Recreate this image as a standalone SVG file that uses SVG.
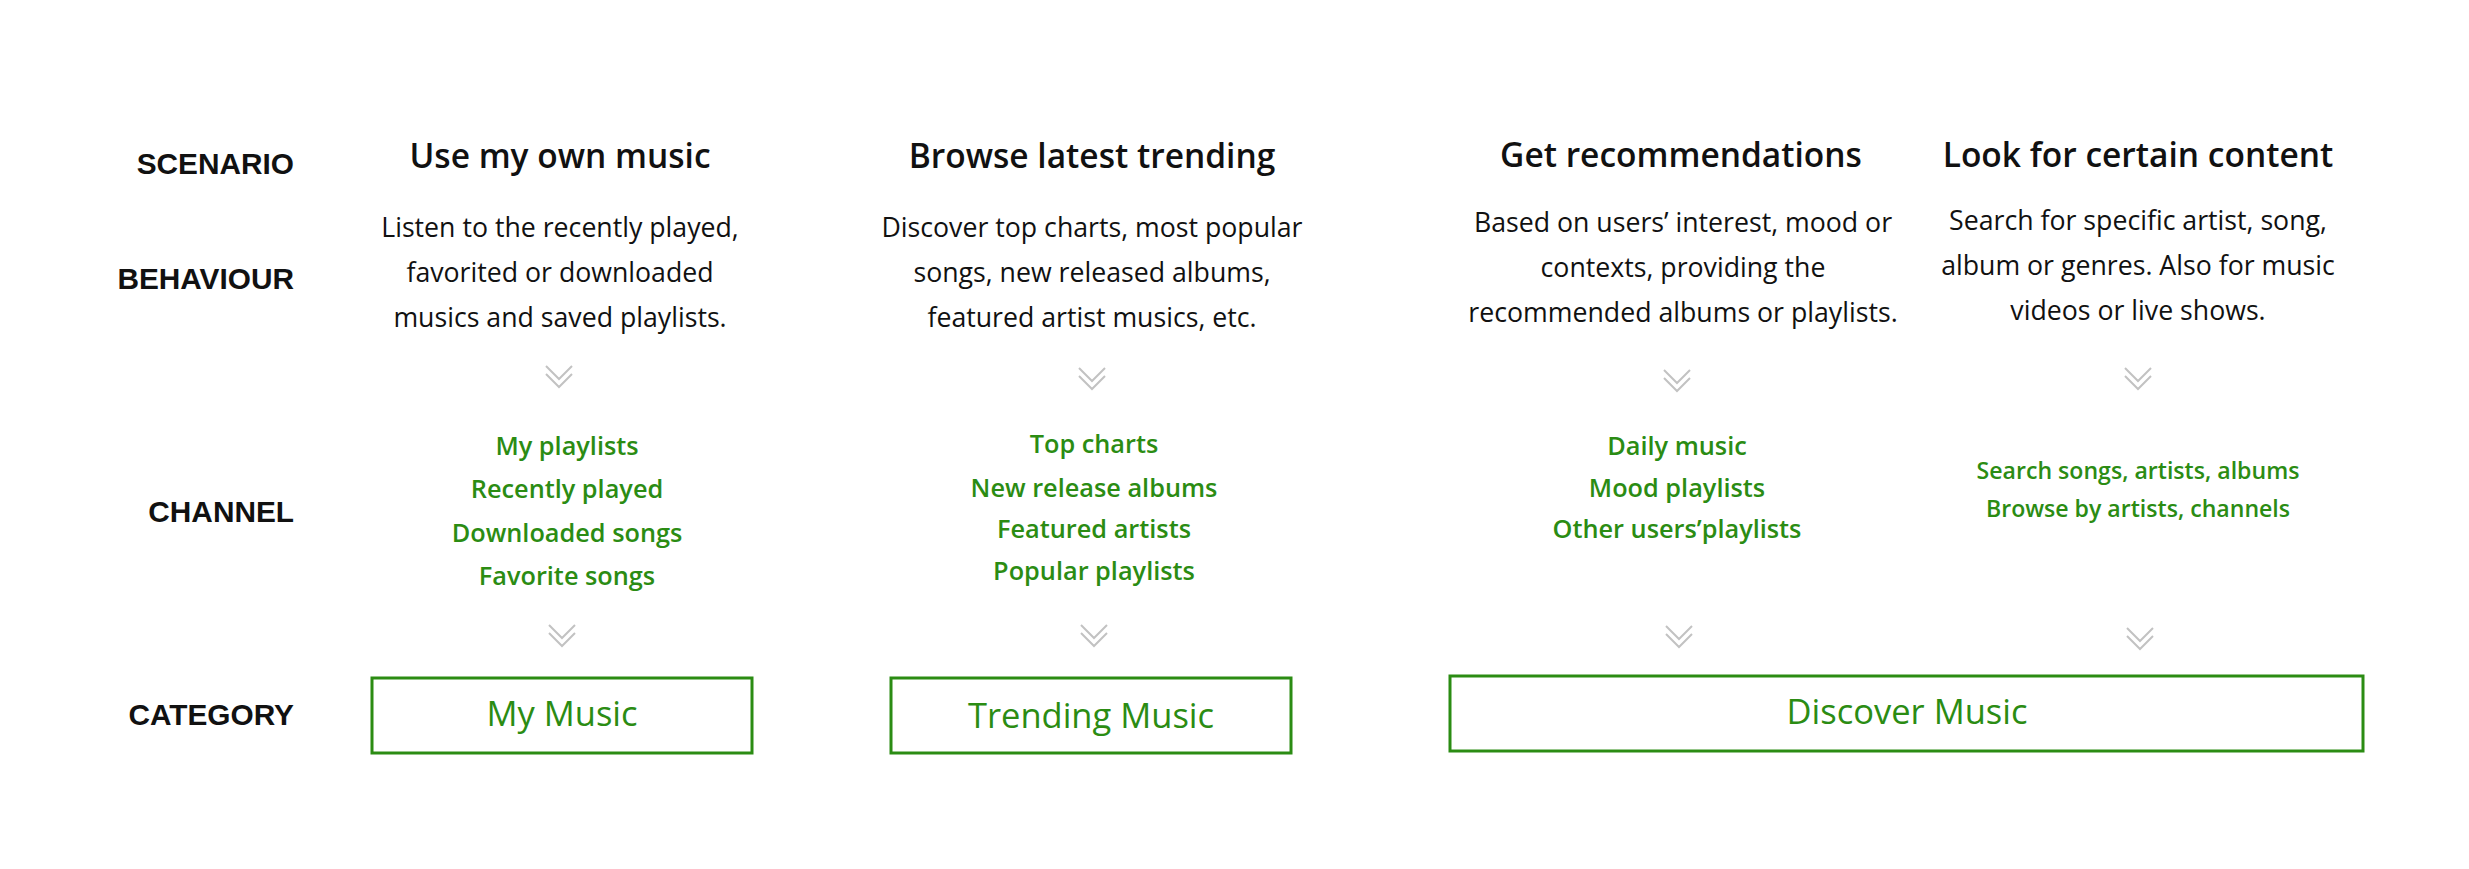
<svg xmlns="http://www.w3.org/2000/svg" width="2469" height="869" viewBox="0 0 2469 869">
<defs>
<style>
text{font-family:"Open Sans","Noto Sans","Liberation Sans",sans-serif;}
.lbl{font-family:"Liberation Sans",Arial,sans-serif;font-size:29.8px;font-weight:700;fill:#111;text-anchor:end;}
.ttl{font-size:33.5px;font-weight:600;fill:#111;text-anchor:middle;}
.bhv{font-size:26.7px;font-weight:400;fill:#111;text-anchor:middle;}
.ch{font-size:25.3px;font-weight:600;fill:#2b8c13;text-anchor:middle;}
.ch2{font-size:23.1px;font-weight:600;fill:#2b8c13;text-anchor:middle;}
.cat{font-size:34.5px;font-weight:400;fill:#2b8c13;text-anchor:middle;}
.box{fill:none;stroke:#2b8c13;stroke-width:3;}
.chev{fill:none;stroke:#c2c2c2;stroke-width:2;}
</style>
<path id="chev" class="chev" d="M-13,0 L0,13 L13,0 M-13,8 L0,21 L13,8"/>
</defs>
<rect width="2469" height="869" fill="#fff"/>
<g id="row-labels">
<text class="lbl" x="294" y="174">SCENARIO</text>
<text class="lbl" x="294" y="289">BEHAVIOUR</text>
<text class="lbl" x="294" y="522">CHANNEL</text>
<text class="lbl" x="294" y="725">CATEGORY</text>
</g>
<g id="col-own">
<text class="ttl" x="560" y="168">Use my own music</text>
<text class="bhv" x="560" y="237">Listen to the recently played,</text>
<text class="bhv" x="560" y="282">favorited or downloaded</text>
<text class="bhv" x="560" y="327">musics and saved playlists.</text>
<text class="ch" x="567" y="455">My playlists</text>
<text class="ch" x="567" y="498">Recently played</text>
<text class="ch" x="567" y="542">Downloaded songs</text>
<text class="ch" x="567" y="585">Favorite songs</text>
</g>
<g id="col-trending">
<text class="ttl" x="1092" y="168">Browse latest trending</text>
<text class="bhv" x="1092" y="237">Discover top charts, most popular</text>
<text class="bhv" x="1092" y="282">songs, new released albums,</text>
<text class="bhv" x="1092" y="327">featured artist musics, etc.</text>
<text class="ch" x="1094" y="453">Top charts</text>
<text class="ch" x="1094" y="497">New release albums</text>
<text class="ch" x="1094" y="538">Featured artists</text>
<text class="ch" x="1094" y="580">Popular playlists</text>
</g>
<g id="col-recommend">
<text class="ttl" x="1681" y="167">Get recommendations</text>
<text class="bhv" x="1683" y="232">Based on users’ interest, mood or</text>
<text class="bhv" x="1683" y="277">contexts, providing the</text>
<text class="bhv" x="1683" y="322">recommended albums or playlists.</text>
<text class="ch" x="1677" y="455">Daily music</text>
<text class="ch" x="1677" y="497">Mood playlists</text>
<text class="ch" x="1677" y="538">Other users’playlists</text>
</g>
<g id="col-search">
<text class="ttl" x="2138" y="167">Look for certain content</text>
<text class="bhv" x="2138" y="230">Search for specific artist, song,</text>
<text class="bhv" x="2138" y="275">album or genres. Also for music</text>
<text class="bhv" x="2138" y="320">videos or live shows.</text>
<text class="ch2" x="2138" y="479">Search songs, artists, albums</text>
<text class="ch2" x="2138" y="517">Browse by artists, channels</text>
</g>
<g id="connectors">
<use href="#chev" x="559" y="366"/>
<use href="#chev" x="1092" y="368"/>
<use href="#chev" x="1677" y="370"/>
<use href="#chev" x="2138" y="368"/>
<use href="#chev" x="562" y="625"/>
<use href="#chev" x="1094" y="625"/>
<use href="#chev" x="1679" y="626"/>
<use href="#chev" x="2140" y="628"/>
</g>
<g id="cat-my-music">
<rect class="box" x="372" y="678" width="380" height="75"/>
<text class="cat" x="562" y="726">My Music</text>
</g>
<g id="cat-trending-music">
<rect class="box" x="891" y="678" width="400" height="75"/>
<text class="cat" x="1091" y="728">Trending Music</text>
</g>
<g id="cat-discover-music">
<rect class="box" x="1450" y="676" width="913" height="75"/>
<text class="cat" x="1907" y="724">Discover Music</text>
</g>
</svg>
